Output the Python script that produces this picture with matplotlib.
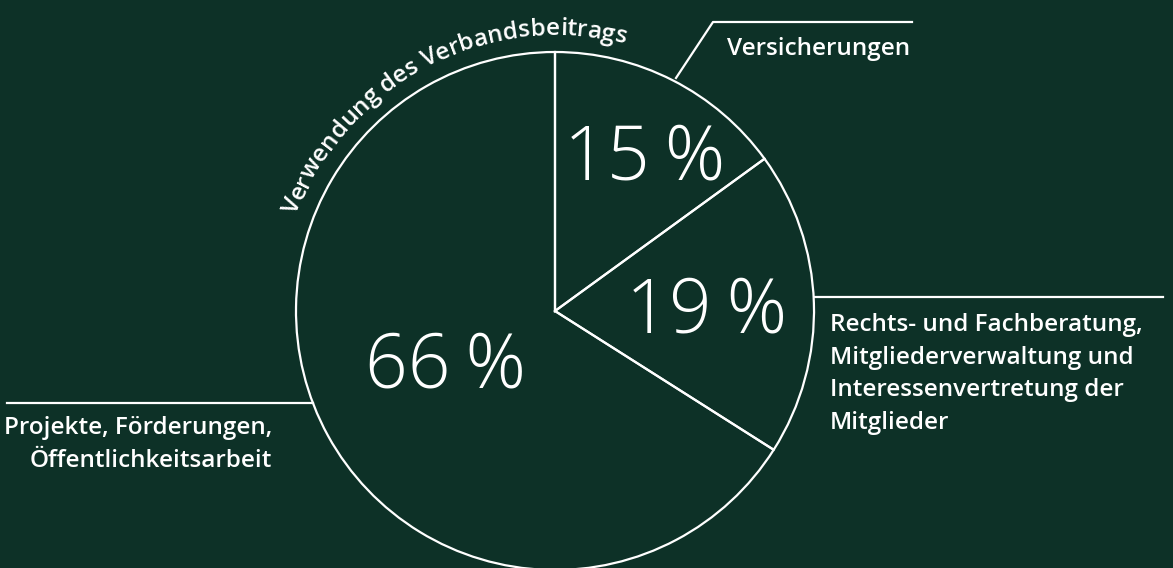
import numpy as np
import matplotlib

matplotlib.use("Agg")
import matplotlib.pyplot as plt
from matplotlib.font_manager import FontProperties

W, H = 1173, 568
BG = "#0d3127"
FG = "white"

title = "Verwendung des Verbandsbeitrags"
shares = [15, 19, 66]
pct_labels = ["15\u2009%", "19\u2009%", "66\u2009%"]
categories = [
    "Versicherungen",
    "Rechts- und Fachberatung,\nMitgliederverwaltung und\nInteressenvertretung der\nMitglieder",
    "Projekte, Förderungen,\nÖffentlichkeitsarbeit",
]

CX, CY, R = 555, H - 311, 259

fig = plt.figure(figsize=(W / 100, H / 100), dpi=100, facecolor=BG)
ax = fig.add_axes([0, 0, 1, 1])
ax.set_facecolor(BG)

wedges, _ = ax.pie(
    shares, center=(CX, CY), radius=R, startangle=90, counterclock=False,
    wedgeprops=dict(facecolor="none", edgecolor=FG, linewidth=1.6),
)
ax.set_xlim(0, W)
ax.set_ylim(0, H)
ax.set_aspect("equal")
ax.axis("off")

# percent labels: baseline anchor as (radius, angle) from the pie centre
label_pos = [(159, 55.5), (153, -7.9), (133.5, -144.8)]
for txt, (r, a) in zip(pct_labels, label_pos):
    t = np.deg2rad(a)
    ax.text(CX + r * np.cos(t), CY + r * np.sin(t), txt, ha="center", va="baseline",
            fontsize=54, color=FG, family=["Open Sans", "DejaVu Sans"], fontweight=300)

lab = dict(color=FG, family="Open Sans", fontweight="semibold", fontsize=17.5, linespacing=1.48)

# Versicherungen
ax.plot([676, 713, 912], [H - 78, H - 22, H - 22], color=FG, lw=1.6)
ax.text(727, H - 49, categories[0], ha="left", va="center", **lab)

# Rechts- und Fachberatung
ax.plot([815, 1163], [H - 297, H - 297], color=FG, lw=1.6)
ax.text(830, H - 313, categories[1], ha="left", va="top", **lab)

# Projekte
ax.plot([7, 313], [H - 403, H - 403], color=FG, lw=1.6)
ax.text(272, H - 416, categories[2], ha="right", va="top", multialignment="right", **lab)

# curved title along the circle
prop = FontProperties(family="Open Sans", weight="semibold", size=17.5)
renderer = fig.canvas.get_renderer()


def text_w(s):
    if not s:
        return 0.0
    w, _, _ = renderer.get_text_width_height_descent(s, prop, ismath=False)
    return w


r_base = R + 17
total = text_w(title)
mid_angle = np.deg2rad(117.5)
start = mid_angle + total / 2 / r_base
for i, ch in enumerate(title):
    c = (text_w(title[:i]) + text_w(title[:i + 1])) / 2
    th = start - c / r_base
    ax.text(CX + r_base * np.cos(th), CY + r_base * np.sin(th), ch,
            ha="center", va="baseline", rotation=np.rad2deg(th) - 90,
            rotation_mode="anchor", fontproperties=prop, color=FG)

fig.savefig("out.png", dpi=100, facecolor=BG)
